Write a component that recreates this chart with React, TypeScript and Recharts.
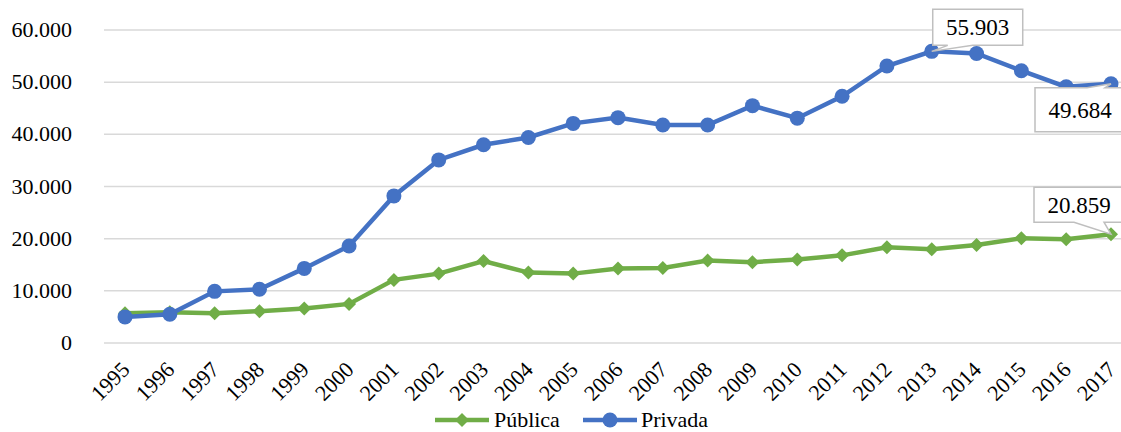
import { LineChart, Line, XAxis, YAxis, CartesianGrid, Legend } from 'recharts';

const years = ['1995', '1996', '1997', '1998', '1999', '2000', '2001', '2002', '2003', '2004', '2005', '2006',
  '2007', '2008', '2009', '2010', '2011', '2012', '2013', '2014', '2015', '2016', '2017'];

const publica = [5700, 5900, 5700, 6100, 6600, 7500, 12100, 13300, 15700, 13500, 13300, 14300,
  14400, 15800, 15500, 16000, 16800, 18350, 17950, 18800, 20100, 19900, 20859];

const privada = [5000, 5500, 9900, 10300, 14300, 18600, 28200, 35100, 38000, 39400, 42100, 43200,
  41800, 41800, 45500, 43100, 47300, 53100, 55903, 55500, 52200, 49100, 49684];

const yTicks = [0, 10000, 20000, 30000, 40000, 50000, 60000];

const data = years.map((year, i) => ({ year, publica: publica[i], privada: privada[i] }));

const FONT = '"Liberation Serif"';
const GREEN = '#70ad47';
const BLUE = '#4472c4';

// the serif face kept getting replaced inside the chart, so force it
const css = `
#chart-root, #chart-root div, #chart-root span, #chart-root svg, #chart-root text, #chart-root tspan {
  font-family: "Liberation Serif", "Times New Roman", Times, serif !important;
}`;

const fmt = (v: number) => String(v).replace(/\B(?=(\d{3})+(?!\d))/g, '.');

const Diamond = (props: any) => {
  const { cx, cy } = props;
  if (cx == null || cy == null) return null;
  const s = 7;
  return <path d={`M${cx},${cy - s} L${cx + s},${cy} L${cx},${cy + s} L${cx - s},${cy} Z`} fill={GREEN} />;
};

const Circle = (props: any) => {
  const { cx, cy } = props;
  if (cx == null || cy == null) return null;
  return <circle cx={cx} cy={cy} r={7.5} fill={BLUE} />;
};

const CalloutText = ({ x, y, children }: any) => (
  <text x={x} y={y} textAnchor="middle" fontFamily="Liberation Serif" fontSize={23} fill="#000">{children}</text>
);

// callout box above-right (2013) or below-left (2017) of the point
const privadaCallout = (props: any) => {
  const { x, y, index, value } = props;
  if (index === 18) {
    const l = x + 1, t = y - 42, w = 90, h = 36, b = t + h;
    const d = `M${l},${t} L${l + w},${t} L${l + w},${b} L${l + 40},${b} L${x},${y} L${l + 15},${b} L${l},${b} Z`;
    return (
      <g>
        <path d={d} fill="#fff" stroke="#bfbfbf" strokeWidth={1.5} />
        <CalloutText x={l + w / 2} y={t + h / 2 + 8}>{fmt(value)}</CalloutText>
      </g>
    );
  }
  if (index === 22) {
    const l = x - 76, t = y + 4, w = 90, h = 44, b = t + h;
    const d = `M${l},${t} L${l + 52},${t} L${x},${y} L${l + 70},${t} L${l + w},${t} L${l + w},${b} L${l},${b} Z`;
    return (
      <g>
        <path d={d} fill="#fff" stroke="#bfbfbf" strokeWidth={1.5} />
        <CalloutText x={l + 45} y={t + h / 2 + 8}>{fmt(value)}</CalloutText>
      </g>
    );
  }
  return null;
};

const publicaCallout = (props: any) => {
  const { x, y, index, value } = props;
  if (index !== 22) return null;
  const l = x - 77, t = y - 47, w = 90, h = 35, b = t + h;
  const d = `M${l},${t} L${l + w},${t} L${l + w},${b} L${l + 70},${b} L${x},${y} L${l + 40},${b} L${l},${b} Z`;
  return (
    <g>
      <path d={d} fill="#fff" stroke="#bfbfbf" strokeWidth={1.5} />
      <CalloutText x={l + 45} y={t + h / 2 + 8}>{fmt(value)}</CalloutText>
    </g>
  );
};

const YearTick = (props: any) => {
  const { x, y, payload } = props;
  return (
    <text x={x + 6} y={y + 20} transform={`rotate(-45, ${x + 6}, ${y + 20})`} textAnchor="end"
      fontFamily="Liberation Serif" fontSize={22} fill="#000">
      {payload.value}
    </text>
  );
};

const ValueTick = (props: any) => {
  const { x, y, payload } = props;
  return (
    <text x={x} y={y + 7} textAnchor="end" fontFamily="Liberation Serif" fontSize={22} fill="#000">
      {fmt(payload.value)}
    </text>
  );
};

const renderLegend = () => (
  <div style={{ display: 'flex', justifyContent: 'center', alignItems: 'center', height: 24, fontFamily: FONT, fontSize: 22, color: '#000' }}>
    <svg width={58} height={20} style={{ marginLeft: 20 }}>
      <line x1={2} y1={10} x2={56} y2={10} stroke={GREEN} strokeWidth={4.5} />
      <path d="M29,3 L36,10 L29,17 L22,10 Z" fill={GREEN} />
    </svg>
    <span style={{ marginLeft: 3, marginRight: 22 }}>Pública</span>
    <svg width={56} height={20}>
      <line x1={1} y1={10} x2={55} y2={10} stroke={BLUE} strokeWidth={4.5} />
      <circle cx={28} cy={10} r={7.5} fill={BLUE} />
    </svg>
    <span style={{ marginLeft: 3 }}>Privada</span>
  </div>
);

export default function App() {
  return (
    <div id="chart-root" style={{ position: 'absolute', left: 0, top: 0, background: '#fff', fontFamily: FONT }}>
      <style>{css}</style>
      <LineChart width={1121} height={432} data={data} margin={{ top: 30, right: 0, left: 0, bottom: 0 }}>
        <CartesianGrid vertical={false} stroke="#d9d9d9" strokeWidth={1.5} />
        <XAxis dataKey="year" axisLine={false} tickLine={false} interval={0} height={65}
          padding={{ left: 21, right: 10 }} tick={<YearTick />} />
        <YAxis domain={[0, 60000]} ticks={yTicks} width={104} axisLine={false} tickLine={false} tickMargin={26}
          tick={<ValueTick />} />
        <Legend verticalAlign="bottom" content={renderLegend} />
        <Line dataKey="publica" name="Pública" stroke={GREEN} strokeWidth={4.5} dot={<Diamond />}
          activeDot={false} isAnimationActive={false} label={publicaCallout} />
        <Line dataKey="privada" name="Privada" stroke={BLUE} strokeWidth={4.5} dot={<Circle />}
          activeDot={false} isAnimationActive={false} label={privadaCallout} />
      </LineChart>
    </div>
  );
}
